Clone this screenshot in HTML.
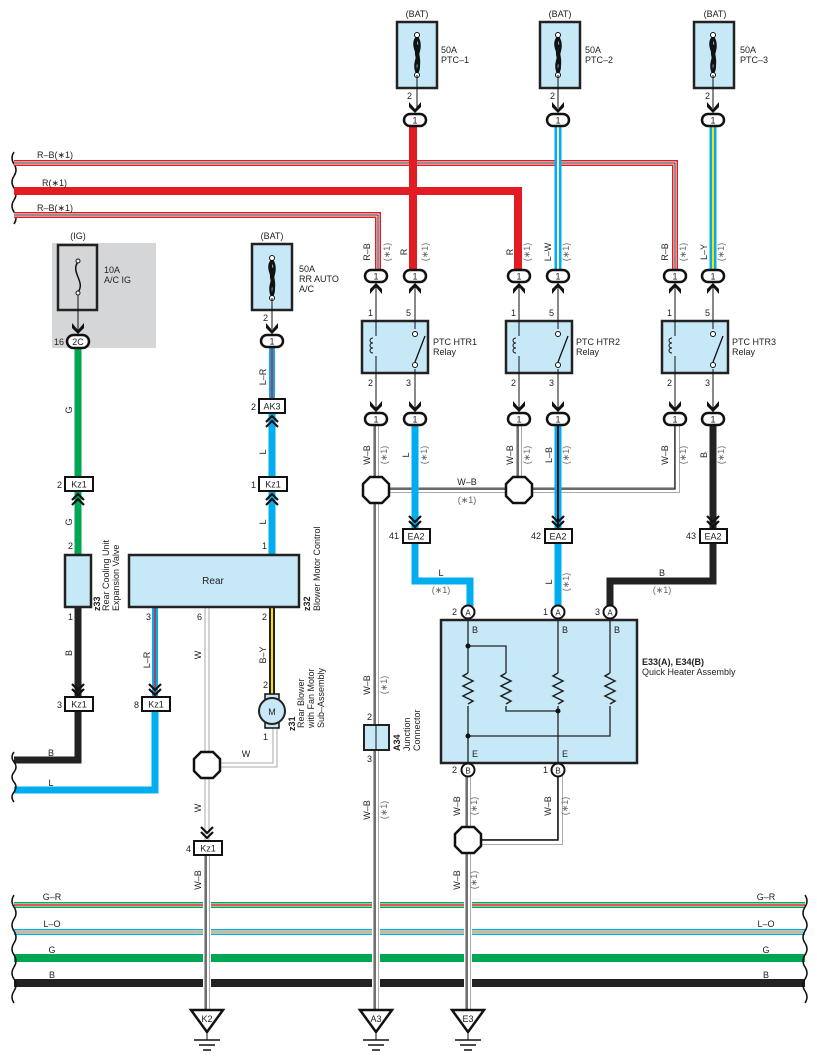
<!DOCTYPE html>
<html><head><meta charset="utf-8"><style>
html,body{margin:0;padding:0;background:#fff}
svg{display:block}
text{font-family:"Liberation Sans",sans-serif;font-size:9px;fill:#222}
.c{text-anchor:middle}
</style></head><body>
<svg width="817" height="1063" viewBox="0 0 817 1063" xmlns="http://www.w3.org/2000/svg">
<defs>
<g id="conn"><rect x="-11" y="-6" width="22" height="12" rx="6" fill="#fff" stroke="#111" stroke-width="2.5"/><text x="0" y="3.5" class="c" style="font-size:9px">1</text></g>
<g id="arrD"><path d="M-6,-12 L0,-5 L6,-12 L6,-7 L0,-1 L-6,-7 Z" fill="#111"/></g>
<g id="arrU"><path d="M-6,12 L0,5 L6,12 L6,7 L0,1 L-6,7 Z" fill="#111"/></g>
<g id="chevD"><path d="M-6,-14 L0,-8 L6,-14 M-6,-9 L0,-3 L6,-9" fill="none" stroke="#111" stroke-width="2.2"/></g>
<g id="chevU"><path d="M-6,14 L0,8 L6,14 M-6,9 L0,3 L6,9" fill="none" stroke="#111" stroke-width="2.2"/></g>
<g id="oct"><polygon points="-6,-13 6,-13 13,-6 13,6 6,13 -6,13 -13,6 -13,-6" fill="#fff" stroke="#111" stroke-width="2.5"/></g>
<g id="fuse50"><path d="M0,-18 C-8,-8 6,0 -2,10 M0,-18 C-4,-8 6,2 0,18 M0,-18 C8,-6 -6,6 0,18 M2,-10 C-6,0 6,8 0,18" fill="none" stroke="#111" stroke-width="2.5"/><circle cx="0" cy="-20" r="2.5" fill="#fff" stroke="#111"/><circle cx="0" cy="20" r="2.5" fill="#fff" stroke="#111"/></g>
<g id="gnd"><polygon points="-16,0 16,0 0,22" fill="#fff" stroke="#111" stroke-width="2.5"/><line x1="0" y1="22" x2="0" y2="30" stroke="#111"/><line x1="-13" y1="30" x2="13" y2="30" stroke="#111" stroke-width="1.5"/><line x1="-8" y1="35" x2="8" y2="35" stroke="#111" stroke-width="1.5"/><line x1="-4" y1="40" x2="4" y2="40" stroke="#111" stroke-width="1.5"/></g>
<g id="relay"><rect x="0" y="0" width="66" height="52" fill="#c6e8f7" stroke="#222" stroke-width="2.5"/></g>
<g id="res"><path d="M0,0 l-5,3 l10,5 l-10,5 l10,5 l-10,5 l10,5 l-5,3" fill="none" stroke="#222" stroke-width="1.5"/></g>
</defs>

<rect x="52" y="243" width="104" height="105" fill="#d5d6d8"/>
<text x="78" y="239" class="c">(IG)</text>
<rect x="58" y="245" width="39" height="65" fill="#d5d6d8" stroke="#222" stroke-width="2.5"/>
<path d="M78,262 C70,272 86,282 78,292" fill="none" stroke="#111" stroke-width="1.5"/>
<circle cx="78" cy="261" r="2" fill="#fff" stroke="#111"/><circle cx="78" cy="293" r="2" fill="#fff" stroke="#111"/>
<line x1="78" y1="295" x2="78" y2="333" stroke="#111"/>
<text x="104" y="273">10A</text><text x="104" y="283">A/C IG</text>

<path d="M14,152 q-4,6 0,12 q4,6 0,12 q-4,6 0,12 q4,6 0,12 q-4,6 0,12 q4,6 0,12" fill="none" stroke="#111" stroke-width="1.5"/>

<g fill="none">
<path d="M14,163 H675 V276" stroke="#e31b23" stroke-width="6"/>
<path d="M14,163 H675 V276" stroke="#fff" stroke-width="3"/>
<path d="M14,163 H675 V276" stroke="#222" stroke-width="1"/>
<path d="M14,191 H518 V276" stroke="#e31b23" stroke-width="8"/>
<path d="M14,215 H378 V276" stroke="#e31b23" stroke-width="6"/>
<path d="M14,215 H378 V276" stroke="#fff" stroke-width="3"/>
<path d="M14,215 H378 V276" stroke="#222" stroke-width="1"/>
<line x1="413" y1="120" x2="413" y2="276" stroke="#e31b23" stroke-width="8"/>
<line x1="558" y1="120" x2="558" y2="276" stroke="#00aeef" stroke-width="7"/>
<line x1="558" y1="120" x2="558" y2="276" stroke="#fff" stroke-width="2"/>
<line x1="713" y1="120" x2="713" y2="276" stroke="#00aeef" stroke-width="7"/>
<line x1="713" y1="120" x2="713" y2="276" stroke="#ffe100" stroke-width="2"/>
</g>
<text x="37" y="158">R–B(∗1)</text><text x="42" y="186">R(∗1)</text><text x="37" y="211">R–B(∗1)</text>

<g>
<text x="417" y="17" class="c">(BAT)</text><rect x="397" y="22" width="40" height="66" fill="#c6e8f7" stroke="#222" stroke-width="2.5"/>
<use href="#fuse50" x="417" y="55"/><line x1="417" y1="75" x2="417" y2="108" stroke="#111"/>
<text x="441" y="53">50A</text><text x="441" y="63">PTC–1</text><text x="407" y="99">2</text>
<use href="#arrD" x="415" y="114"/><use href="#conn" x="415" y="120"/>

<text x="560" y="17" class="c">(BAT)</text><rect x="540" y="22" width="40" height="66" fill="#c6e8f7" stroke="#222" stroke-width="2.5"/>
<use href="#fuse50" x="558" y="55"/><line x1="558" y1="75" x2="558" y2="108" stroke="#111"/>
<text x="585" y="53">50A</text><text x="585" y="63">PTC–2</text><text x="550" y="99">2</text>
<use href="#arrD" x="558" y="114"/><use href="#conn" x="558" y="120"/>

<text x="715" y="17" class="c">(BAT)</text><rect x="694" y="22" width="40" height="66" fill="#c6e8f7" stroke="#222" stroke-width="2.5"/>
<use href="#fuse50" x="713" y="55"/><line x1="713" y1="75" x2="713" y2="108" stroke="#111"/>
<text x="740" y="53">50A</text><text x="740" y="63">PTC–3</text><text x="705" y="99">2</text>
<use href="#arrD" x="713" y="114"/><use href="#conn" x="713" y="120"/>
</g>

<g>
<text transform="translate(370,252) rotate(-90)" class="c">R–B</text><text transform="translate(390,252) rotate(-90)" class="c" style="fill:#666">(∗1)</text>
<text transform="translate(407,252) rotate(-90)" class="c">R</text><text transform="translate(428,252) rotate(-90)" class="c" style="fill:#666">(∗1)</text>
<text transform="translate(513,252) rotate(-90)" class="c">R</text><text transform="translate(530,252) rotate(-90)" class="c" style="fill:#666">(∗1)</text>
<text transform="translate(551,252) rotate(-90)" class="c">L–W</text><text transform="translate(569,252) rotate(-90)" class="c" style="fill:#666">(∗1)</text>
<text transform="translate(668,252) rotate(-90)" class="c">R–B</text><text transform="translate(686,252) rotate(-90)" class="c" style="fill:#666">(∗1)</text>
<text transform="translate(707,252) rotate(-90)" class="c">L–Y</text><text transform="translate(724,252) rotate(-90)" class="c" style="fill:#666">(∗1)</text>
</g>

<g id="relays">
<g>
<use href="#relay" x="362" y="321"/>
<line x1="376" y1="282" x2="376" y2="413" stroke="#111"/><line x1="415" y1="282" x2="415" y2="413" stroke="#111"/>
<rect x="372" y="336" width="6" height="20" fill="#c6e8f7"/>
<path d="M373,338 c-4,0 -4,5 0,5 M373,343 c-4,0 -4,5 0,5 M373,348 c-4,0 -4,5 0,5" fill="none" stroke="#111"/>
<rect x="410" y="329" width="10" height="40" fill="#c6e8f7"/>
<circle cx="415" cy="334" r="2.5" fill="#fff" stroke="#111"/><circle cx="415" cy="365" r="2.5" fill="#fff" stroke="#111"/>
<line x1="415" y1="362" x2="425" y2="336" stroke="#111" stroke-width="1.3"/>
<text x="368" y="316">1</text><text x="406" y="316">5</text><text x="368" y="386">2</text><text x="406" y="386">3</text>
<text x="433" y="345">PTC HTR1</text><text x="433" y="355">Relay</text>
</g>
<g>
<use href="#relay" x="506" y="321"/>
<line x1="519" y1="282" x2="519" y2="413" stroke="#111"/><line x1="558" y1="282" x2="558" y2="413" stroke="#111"/>
<rect x="515" y="336" width="6" height="20" fill="#c6e8f7"/>
<path d="M516,338 c-4,0 -4,5 0,5 M516,343 c-4,0 -4,5 0,5 M516,348 c-4,0 -4,5 0,5" fill="none" stroke="#111"/>
<rect x="553" y="329" width="10" height="40" fill="#c6e8f7"/>
<circle cx="558" cy="334" r="2.5" fill="#fff" stroke="#111"/><circle cx="558" cy="365" r="2.5" fill="#fff" stroke="#111"/>
<line x1="558" y1="362" x2="568" y2="336" stroke="#111" stroke-width="1.3"/>
<text x="511" y="316">1</text><text x="549" y="316">5</text><text x="511" y="386">2</text><text x="549" y="386">3</text>
<text x="576" y="345">PTC HTR2</text><text x="576" y="355">Relay</text>
</g>
<g>
<use href="#relay" x="662" y="321"/>
<line x1="675" y1="282" x2="675" y2="413" stroke="#111"/><line x1="713" y1="282" x2="713" y2="413" stroke="#111"/>
<rect x="671" y="336" width="6" height="20" fill="#c6e8f7"/>
<path d="M672,338 c-4,0 -4,5 0,5 M672,343 c-4,0 -4,5 0,5 M672,348 c-4,0 -4,5 0,5" fill="none" stroke="#111"/>
<rect x="708" y="329" width="10" height="40" fill="#c6e8f7"/>
<circle cx="713" cy="334" r="2.5" fill="#fff" stroke="#111"/><circle cx="713" cy="365" r="2.5" fill="#fff" stroke="#111"/>
<line x1="713" y1="362" x2="723" y2="336" stroke="#111" stroke-width="1.3"/>
<text x="667" y="316">1</text><text x="705" y="316">5</text><text x="667" y="386">2</text><text x="705" y="386">3</text>
<text x="732" y="345">PTC HTR3</text><text x="732" y="355">Relay</text>
</g>
</g>
<use href="#arrU" x="376" y="282"/><use href="#conn" x="376" y="276"/>
<use href="#arrU" x="415" y="282"/><use href="#conn" x="415" y="276"/>
<use href="#arrU" x="519" y="282"/><use href="#conn" x="519" y="276"/>
<use href="#arrU" x="558" y="282"/><use href="#conn" x="558" y="276"/>
<use href="#arrU" x="675" y="282"/><use href="#conn" x="675" y="276"/>
<use href="#arrU" x="713" y="282"/><use href="#conn" x="713" y="276"/>

<g fill="none">
<path d="M376,419 V1012" stroke="#aaa" stroke-width="6"/><path d="M376,419 V1012" stroke="#fff" stroke-width="4"/><path d="M375,419 V1012" stroke="#111" stroke-width="1.2"/>
<path d="M376,490 H677 V419" stroke="#aaa" stroke-width="6"/><path d="M376,490 H677 V419" stroke="#fff" stroke-width="4"/><path d="M376,489 H675 V419" stroke="#111" stroke-width="1.2"/>
<path d="M519,419 V490" stroke="#aaa" stroke-width="6"/><path d="M519,419 V490" stroke="#fff" stroke-width="4"/><path d="M518,419 V490" stroke="#111" stroke-width="1.2"/>
<path d="M415,419 V528 M415,535 V581 H470 V606" stroke="#00aeef" stroke-width="7"/>
<path d="M558,419 V528" stroke="#00aeef" stroke-width="7"/><path d="M558,419 V528" stroke="#111" stroke-width="2"/>
<path d="M558,535 V606" stroke="#00aeef" stroke-width="7"/>
<path d="M713,419 V528 M713,535 V581 H610 V606" stroke="#222" stroke-width="7"/>
</g>
<use href="#oct" x="376" y="490"/><use href="#oct" x="519" y="490"/>
<use href="#conn" x="376" y="419"/><use href="#conn" x="415" y="419"/><use href="#conn" x="519" y="419"/><use href="#conn" x="558" y="419"/><use href="#conn" x="675" y="419"/><use href="#conn" x="713" y="419"/>
<use href="#arrD" x="376" y="413"/><use href="#arrD" x="415" y="413"/><use href="#arrD" x="519" y="413"/><use href="#arrD" x="558" y="413"/><use href="#arrD" x="675" y="413"/><use href="#arrD" x="713" y="413"/>
<g>
<text transform="translate(370,455) rotate(-90)" class="c">W–B</text><text transform="translate(387,455) rotate(-90)" class="c" style="fill:#666">(∗1)</text>
<text transform="translate(409,455) rotate(-90)" class="c">L</text><text transform="translate(427,455) rotate(-90)" class="c" style="fill:#666">(∗1)</text>
<text transform="translate(513,455) rotate(-90)" class="c">W–B</text><text transform="translate(530,455) rotate(-90)" class="c" style="fill:#666">(∗1)</text>
<text transform="translate(552,455) rotate(-90)" class="c">L–B</text><text transform="translate(569,455) rotate(-90)" class="c" style="fill:#666">(∗1)</text>
<text transform="translate(668,455) rotate(-90)" class="c">W–B</text><text transform="translate(686,455) rotate(-90)" class="c" style="fill:#666">(∗1)</text>
<text transform="translate(707,455) rotate(-90)" class="c">B</text><text transform="translate(724,455) rotate(-90)" class="c" style="fill:#666">(∗1)</text>
<text x="467" y="485" class="c">W–B</text><text x="467" y="503" class="c" style="fill:#666">(∗1)</text>
</g>
<use href="#chevD" x="415" y="530"/><rect x="403" y="529" width="27" height="14" fill="#fff" stroke="#111" stroke-width="2"/><text x="416" y="539.5" class="c">EA2</text><text x="389" y="539">41</text>
<use href="#chevD" x="558" y="530"/><rect x="545" y="529" width="27" height="14" fill="#fff" stroke="#111" stroke-width="2"/><text x="558" y="539.5" class="c">EA2</text><text x="531" y="539">42</text>
<use href="#chevD" x="713" y="530"/><rect x="700" y="529" width="27" height="14" fill="#fff" stroke="#111" stroke-width="2"/><text x="713" y="539.5" class="c">EA2</text><text x="686" y="539">43</text>
<text x="441" y="576" class="c">L</text><text x="441" y="593" class="c" style="fill:#666">(∗1)</text>
<text transform="translate(552,582) rotate(-90)" class="c">L</text><text transform="translate(569,582) rotate(-90)" class="c" style="fill:#666">(∗1)</text>
<text x="662" y="576" class="c">B</text><text x="662" y="593" class="c" style="fill:#666">(∗1)</text>

<rect x="441" y="620" width="196" height="143" fill="#c6e8f7" stroke="#222" stroke-width="2.5"/>
<g fill="none" stroke="#222" stroke-width="1.3">
<path d="M468,612 V770"/><path d="M558,612 V770"/><path d="M610,612 V673 M610,706 V736 H468"/>
<path d="M468,646 H506 V673 M506,706 V711 H558"/>
</g>
<rect x="463" y="673" width="10" height="33" fill="#c6e8f7"/><rect x="553" y="673" width="10" height="33" fill="#c6e8f7"/>
<use href="#res" x="468" y="673"/><use href="#res" x="506" y="673"/><use href="#res" x="558" y="673"/><use href="#res" x="610" y="673"/>
<circle cx="468" cy="646" r="2.5" fill="#111"/><circle cx="558" cy="711" r="2.5" fill="#111"/><circle cx="468" cy="736" r="2.5" fill="#111"/>
<text x="472" y="633">B</text><text x="562" y="633">B</text><text x="614" y="633">B</text>
<text x="472" y="757">E</text><text x="562" y="757">E</text>
<g>
<circle cx="468" cy="612" r="6.5" fill="#fff" stroke="#111" stroke-width="2"/><text x="468" y="615.5" class="c" style="font-size:8px">A</text><text x="452" y="615">2</text>
<circle cx="558" cy="612" r="6.5" fill="#fff" stroke="#111" stroke-width="2"/><text x="558" y="615.5" class="c" style="font-size:8px">A</text><text x="543" y="615">1</text>
<circle cx="610" cy="612" r="6.5" fill="#fff" stroke="#111" stroke-width="2"/><text x="610" y="615.5" class="c" style="font-size:8px">A</text><text x="595" y="615">3</text>
</g>
<text x="642" y="665" style="font-weight:bold">E33(A), E34(B)</text><text x="642" y="675">Quick Heater Assembly</text>

<g fill="none">
<path d="M468,776 V1012" stroke="#aaa" stroke-width="6"/><path d="M468,776 V1012" stroke="#fff" stroke-width="4"/><path d="M467,776 V1012" stroke="#111" stroke-width="1.2"/>
<path d="M468,842 H560 V776" stroke="#aaa" stroke-width="6"/><path d="M468,842 H560 V776" stroke="#fff" stroke-width="4"/><path d="M468,840 H558 V776" stroke="#111" stroke-width="1.5"/>
</g>
<circle cx="468" cy="770" r="6.5" fill="#fff" stroke="#111" stroke-width="2"/><text x="468" y="773.5" class="c" style="font-size:8px">B</text><text x="452" y="773">2</text>
<circle cx="558" cy="770" r="6.5" fill="#fff" stroke="#111" stroke-width="2"/><text x="558" y="773.5" class="c" style="font-size:8px">B</text><text x="543" y="773">1</text>
<use href="#oct" x="468" y="840"/>
<text transform="translate(460,806) rotate(-90)" class="c">W–B</text><text transform="translate(477,806) rotate(-90)" class="c" style="fill:#666">(∗1)</text>
<text transform="translate(551,806) rotate(-90)" class="c">W–B</text><text transform="translate(568,806) rotate(-90)" class="c" style="fill:#666">(∗1)</text>
<text transform="translate(460,880) rotate(-90)" class="c">W–B</text><text transform="translate(477,880) rotate(-90)" class="c" style="fill:#666">(∗1)</text>

<text transform="translate(370,685) rotate(-90)" class="c">W–B</text><text transform="translate(387,685) rotate(-90)" class="c" style="fill:#666">(∗1)</text>
<rect x="364" y="725" width="25" height="25" fill="#c6e8f7" stroke="#222" stroke-width="2"/>
<line x1="376" y1="725" x2="376" y2="750" stroke="#111"/>
<text x="367" y="720">2</text><text x="367" y="762">3</text>
<text transform="translate(400,751) rotate(-90)" style="font-weight:bold">A34</text>
<text transform="translate(410,751) rotate(-90)">Junction</text><text transform="translate(420,751) rotate(-90)">Connector</text>
<text transform="translate(370,810) rotate(-90)" class="c">W–B</text><text transform="translate(387,810) rotate(-90)" class="c" style="fill:#666">(∗1)</text>

<g fill="none">
<path d="M78,347 V478 M78,491 V555" stroke="#00a651" stroke-width="7"/>
<path d="M78,607 V698 M78,711 V760 H14" stroke="#222" stroke-width="7"/>
<path d="M155,607 V698" stroke="#00aeef" stroke-width="6"/><path d="M155,607 V698" stroke="#e31b23" stroke-width="1.5"/>
<path d="M155,711 V790 H14" stroke="#00aeef" stroke-width="7"/>
<path d="M207,607 V841" stroke="#aaa" stroke-width="5"/><path d="M207,607 V841" stroke="#fff" stroke-width="3"/>
<path d="M207,855 V1012" stroke="#aaa" stroke-width="6"/><path d="M207,855 V1012" stroke="#fff" stroke-width="4"/><path d="M206,855 V1012" stroke="#111" stroke-width="1.2"/>
<path d="M207,765 H275 V724" stroke="#aaa" stroke-width="5"/><path d="M207,765 H275 V724" stroke="#fff" stroke-width="3"/>
<path d="M272,607 V695" stroke="#222" stroke-width="6"/><path d="M272,607 V695" stroke="#ffe100" stroke-width="2"/>
<path d="M272,347 V400" stroke="#00aeef" stroke-width="6"/><path d="M272,347 V400" stroke="#e31b23" stroke-width="1.5"/>
<path d="M272,413 V478 M272,491 V555" stroke="#00aeef" stroke-width="7"/>
</g>
<use href="#arrD" x="78" y="335"/>
<rect x="67" y="335" width="22" height="13" rx="6.5" fill="#fff" stroke="#111" stroke-width="2.5"/><text x="78" y="345" class="c">2C</text><text x="54" y="345">16</text>
<text transform="translate(72,410) rotate(-90)" class="c">G</text>
<rect x="65" y="477" width="28" height="14" fill="#fff" stroke="#111" stroke-width="2"/><text x="79" y="487.5" class="c">Kz1</text><text x="57" y="488">2</text>
<use href="#chevU" x="78" y="491"/>
<text transform="translate(72,522) rotate(-90)" class="c">G</text>
<text x="68" y="549">2</text>
<rect x="65" y="555" width="26" height="52" fill="#c6e8f7" stroke="#222" stroke-width="2.5"/>
<text x="68" y="620">1</text>
<text transform="translate(100,611) rotate(-90)" style="font-weight:bold">z33</text>
<text transform="translate(109,611) rotate(-90)">Rear Cooling Unit</text><text transform="translate(119,611) rotate(-90)">Expansion Valve</text>
<text transform="translate(72,653) rotate(-90)" class="c">B</text>
<use href="#chevD" x="78" y="698"/><rect x="65" y="697" width="28" height="14" fill="#fff" stroke="#111" stroke-width="2"/><text x="79" y="707.5" class="c">Kz1</text><text x="57" y="708">3</text>
<text x="51" y="756" class="c">B</text><text x="51" y="786" class="c">L</text>
<path d="M14,752 q-4,5 0,10 q4,5 0,10 q-4,5 0,10 q4,5 0,10 q-4,5 0,10" fill="none" stroke="#111" stroke-width="1.5"/>

<text x="272" y="239" class="c">(BAT)</text>
<rect x="252" y="244" width="40" height="66" fill="#c6e8f7" stroke="#222" stroke-width="2.5"/>
<use href="#fuse50" x="272" y="278"/><line x1="272" y1="298" x2="272" y2="329" stroke="#111"/>
<text x="299" y="272">50A</text><text x="299" y="282">RR AUTO</text><text x="299" y="292">A/C</text>
<text x="263" y="321">2</text>
<use href="#arrD" x="272" y="335"/><use href="#conn" x="272" y="341"/>
<text transform="translate(266,377) rotate(-90)" class="c">L–R</text>
<rect x="259" y="399" width="26" height="14" fill="#fff" stroke="#111" stroke-width="2"/><text x="272" y="409.5" class="c">AK3</text><text x="251" y="410">2</text>
<use href="#chevU" x="272" y="413"/>
<text transform="translate(266,452) rotate(-90)" class="c">L</text>
<rect x="259" y="477" width="28" height="14" fill="#fff" stroke="#111" stroke-width="2"/><text x="273" y="487.5" class="c">Kz1</text><text x="251" y="488">1</text>
<use href="#chevU" x="272" y="491"/>
<text transform="translate(266,522) rotate(-90)" class="c">L</text>
<text x="262" y="549">1</text>

<rect x="129" y="555" width="170" height="52" fill="#c6e8f7" stroke="#222" stroke-width="2.5"/>
<text x="213" y="584" class="c" style="font-size:10px">Rear</text>
<text transform="translate(310,611) rotate(-90)" style="font-weight:bold">z32</text>
<text transform="translate(320,611) rotate(-90)">Blower Motor Control</text>
<text x="146" y="620">3</text><text x="197" y="620">6</text><text x="262" y="620">2</text>
<text transform="translate(150,660) rotate(-90)" class="c">L–R</text>
<text transform="translate(201,655) rotate(-90)" class="c">W</text>
<text transform="translate(266,655) rotate(-90)" class="c">B–Y</text>
<use href="#chevD" x="155" y="698"/><rect x="142" y="697" width="28" height="14" fill="#fff" stroke="#111" stroke-width="2"/><text x="156" y="707.5" class="c">Kz1</text><text x="134" y="708">8</text>
<text x="263" y="688">2</text>
<rect x="265" y="694" width="14" height="7" fill="#c6e8f7" stroke="#111" stroke-width="1.5"/>
<rect x="265" y="721" width="14" height="7" fill="#c6e8f7" stroke="#111" stroke-width="1.5"/>
<circle cx="272" cy="711" r="13" fill="#c6e8f7" stroke="#222" stroke-width="2"/>
<text x="272" y="715" class="c">M</text>
<text x="263" y="740">1</text>
<text transform="translate(295,731) rotate(-90)" style="font-weight:bold">z31</text>
<text transform="translate(304,728) rotate(-90)">Rear Blower</text><text transform="translate(314,728) rotate(-90)">with Fan Motor</text><text transform="translate(324,728) rotate(-90)">Sub–Assembly</text>
<text x="246" y="757" class="c">W</text>
<use href="#oct" x="207" y="765"/>
<text transform="translate(201,808) rotate(-90)" class="c">W</text>
<use href="#chevD" x="207" y="841"/><rect x="194" y="841" width="28" height="14" fill="#fff" stroke="#111" stroke-width="2"/><text x="208" y="851.5" class="c">Kz1</text><text x="186" y="852">4</text>
<text transform="translate(201,880) rotate(-90)" class="c">W–B</text>

<g fill="none">
<line x1="14" y1="905" x2="805" y2="905" stroke="#00a651" stroke-width="6"/><line x1="14" y1="905" x2="805" y2="905" stroke="#fff" stroke-width="3"/><line x1="14" y1="905" x2="805" y2="905" stroke="#e31b23" stroke-width="1.5"/>
<line x1="14" y1="932" x2="805" y2="932" stroke="#00aeef" stroke-width="6"/><line x1="14" y1="932" x2="805" y2="932" stroke="#fff" stroke-width="3"/><line x1="14" y1="932" x2="805" y2="932" stroke="#f7941d" stroke-width="1.5"/>
<line x1="14" y1="958" x2="805" y2="958" stroke="#00a651" stroke-width="8"/>
<line x1="14" y1="983" x2="805" y2="983" stroke="#222" stroke-width="8"/>
<path d="M14,895 q-4,6 0,12 q4,6 0,12 q-4,6 0,12 q4,6 0,12 q-4,6 0,12 q4,6 0,12 q-4,6 0,12 q4,6 0,12 q-4,6 0,12" stroke="#111" stroke-width="1.5"/>
<path d="M805,895 q4,6 0,12 q-4,6 0,12 q4,6 0,12 q-4,6 0,12 q4,6 0,12 q-4,6 0,12 q4,6 0,12 q-4,6 0,12 q4,6 0,12" stroke="#111" stroke-width="1.5"/>
</g>
<g fill="none">
<path d="M207,896 V992" stroke="#fff" stroke-width="8"/><path d="M207,896 V992" stroke="#aaa" stroke-width="6"/><path d="M207,896 V992" stroke="#fff" stroke-width="4"/><path d="M206,896 V992" stroke="#111" stroke-width="1.2"/>
<path d="M376,896 V992" stroke="#fff" stroke-width="8"/><path d="M376,896 V992" stroke="#aaa" stroke-width="6"/><path d="M376,896 V992" stroke="#fff" stroke-width="4"/><path d="M375,896 V992" stroke="#111" stroke-width="1.2"/>
<path d="M468,896 V992" stroke="#fff" stroke-width="8"/><path d="M468,896 V992" stroke="#aaa" stroke-width="6"/><path d="M468,896 V992" stroke="#fff" stroke-width="4"/><path d="M467,896 V992" stroke="#111" stroke-width="1.2"/>
</g>
<text x="52" y="900" class="c">G–R</text><text x="52" y="927" class="c">L–O</text><text x="52" y="953" class="c">G</text><text x="52" y="978" class="c">B</text>
<text x="766" y="900" class="c">G–R</text><text x="766" y="927" class="c">L–O</text><text x="766" y="953" class="c">G</text><text x="766" y="978" class="c">B</text>

<use href="#gnd" x="207" y="1010"/><text x="207" y="1022" class="c">K2</text>
<use href="#gnd" x="376" y="1010"/><text x="376" y="1022" class="c">A3</text>
<use href="#gnd" x="468" y="1010"/><text x="468" y="1022" class="c">E3</text>
</svg>
</body></html>
